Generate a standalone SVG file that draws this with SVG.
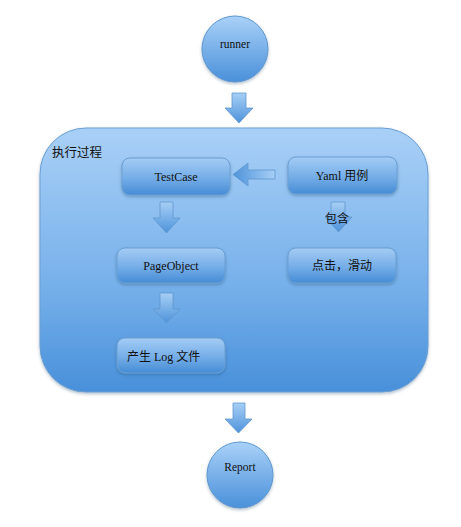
<svg xmlns="http://www.w3.org/2000/svg" width="461" height="527" viewBox="0 0 461 527">
<defs>
<linearGradient id="gBig" x1="0" y1="0" x2="0" y2="1">
<stop offset="0" stop-color="#a9d0f7"/>
<stop offset="0.6" stop-color="#76b0ea"/>
<stop offset="1" stop-color="#4890da"/>
</linearGradient>
<linearGradient id="gBox" x1="0" y1="0" x2="0" y2="1">
<stop offset="0" stop-color="#a4ccf5"/>
<stop offset="0.55" stop-color="#74ade7"/>
<stop offset="1" stop-color="#468cd5"/>
</linearGradient>
<linearGradient id="gCircle" x1="0" y1="0" x2="0" y2="1">
<stop offset="0" stop-color="#a9d1f8"/>
<stop offset="1" stop-color="#4a90da"/>
</linearGradient>
<linearGradient id="gArrowV" x1="0" y1="0" x2="0" y2="1">
<stop offset="0" stop-color="#a7cff6"/>
<stop offset="1" stop-color="#4e93da"/>
</linearGradient>
<linearGradient id="gArrowH" x1="1" y1="0" x2="0" y2="0">
<stop offset="0" stop-color="#a7cff6"/>
<stop offset="1" stop-color="#4e93da"/>
</linearGradient>
<filter id="sh" x="-10%" y="-10%" width="120%" height="130%">
<feDropShadow dx="0" dy="1.5" stdDeviation="1.5" flood-color="#1f3f66" flood-opacity="0.35"/>
</filter>
</defs>
<style>
.txt{font-family:"Liberation Serif","Noto Sans CJK SC",serif;font-size:12px;fill:#111;}
.mid{text-anchor:middle;}
.box{fill:url(#gBox);stroke:#6a9fd3;stroke-width:1;filter:url(#sh);}
.circ{fill:url(#gCircle);stroke:#5f97cf;stroke-width:1;filter:url(#sh);}
.av{fill:url(#gArrowV);stroke:#5f97cf;stroke-width:0.8;}
.ah{fill:url(#gArrowH);stroke:#5f97cf;stroke-width:0.8;}
</style>

<g id="container">
<rect x="40" y="128" width="388" height="264" rx="46" ry="46" fill="url(#gBig)" stroke="#6a9fd3" stroke-width="1" filter="url(#sh)"/>
<text class="txt" x="52" y="157" style="font-size:12.5px">执行过程</text>
</g>

<g id="runner">
<circle class="circ" cx="235" cy="49" r="33"/>
<text class="txt mid" x="235" y="48" style="font-size:11.5px">runner</text>
</g>

<g id="report">
<circle class="circ" cx="240" cy="475" r="33"/>
<text class="txt mid" x="240" y="471" style="font-size:11.5px">Report</text>
</g>

<g id="testcase">
<rect class="box" x="122" y="158" width="108" height="37" rx="8"/>
<text class="txt mid" x="176" y="181">TestCase</text>
</g>

<g id="yaml">
<rect class="box" x="288" y="157" width="109" height="37" rx="8"/>
<text class="txt mid" x="342" y="180">Yaml 用例</text>
</g>

<g id="pageobject">
<rect class="box" x="117" y="248" width="108" height="35" rx="8"/>
<text class="txt mid" x="171" y="270">PageObject</text>
</g>

<g id="click">
<rect class="box" x="288" y="248" width="108" height="35" rx="8"/>
<text class="txt mid" x="342" y="270">点击，滑动</text>
</g>

<g id="log">
<rect class="box" x="117" y="338" width="108" height="35" rx="8"/>
<text class="txt" x="127" y="361">产生 Log 文件</text>
</g>

<g id="connectors">
<path class="av" d="M232 93 H246 V108 H253 L239 123 L225 108 H232 Z"/>
<path class="ah" d="M275 170 H248 V163 L233 174.5 L248 186 V179 H275 Z"/>
<path class="av" d="M160 202 H173 V218 H180 L166.5 233 L153 218 H160 Z"/>
<path class="av" d="M331 202 H345 V217 H352 L338.5 232 L325 217 H331 Z"/>
<path class="av" d="M160 293 H173 V309 H180 L166.5 323 L153 309 H160 Z"/>
<path class="av" d="M233 403 H245 V419 H252 L238.5 433 L225 419 H233 Z"/>
<text class="txt mid" x="337" y="223">包含</text>
</g>
</svg>
